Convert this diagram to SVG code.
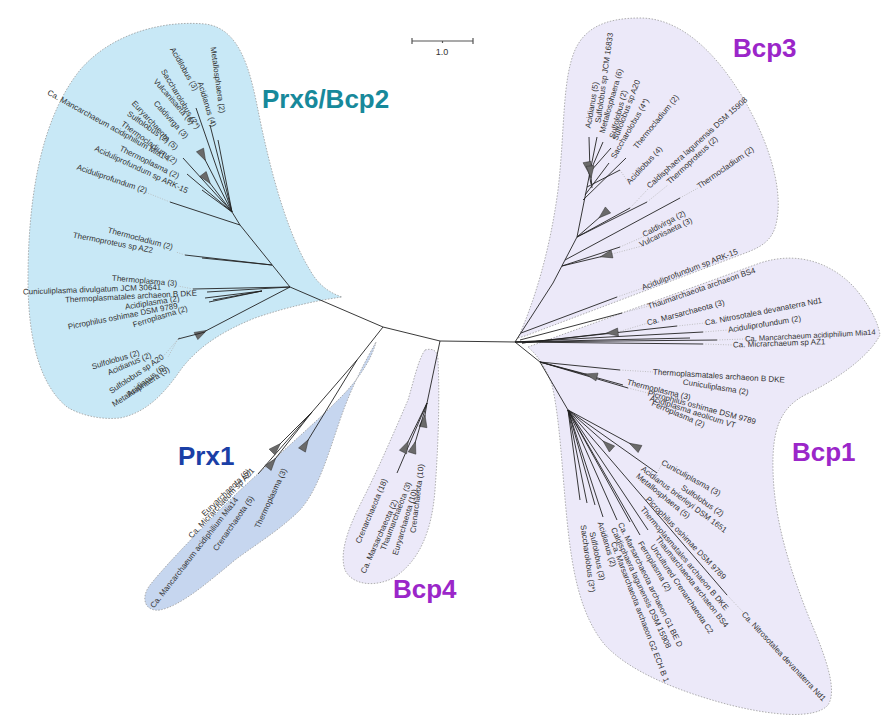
<svg xmlns="http://www.w3.org/2000/svg" width="881" height="718" viewBox="0 0 881 718">
<defs>
<style>
.blob{stroke:#9a9a9a;stroke-width:0.8;stroke-dasharray:1.5 1.5}
.b-prx6{fill:#c8e8f6}
.b-prx1{fill:#c6d6ef}
.b-bcp{fill:#ece9f9}
.lf{font-family:"Liberation Sans",Arial,sans-serif;font-size:8px;fill:#333;dominant-baseline:central}
.cl{font-family:"Liberation Sans",Arial,sans-serif;font-size:26px;font-weight:bold}
.br path{fill:none;stroke:#222;stroke-width:0.9}
.br path.t{marker-end:url(#clade)}
.ld path{fill:none;stroke:#b4b4b4;stroke-width:0.8;stroke-dasharray:1 1.5}
</style>
<marker id="clade" markerUnits="userSpaceOnUse" markerWidth="14" markerHeight="10" refX="13" refY="5" orient="auto">
<path d="M1,5 L13,1 L13,9 Z" fill="#6a6a6a" stroke="#333" stroke-width="0.5"/>
</marker>
</defs>
<rect width="881" height="718" fill="#fff"/>

<!-- clade shading -->
<g id="prx6-bcp2">
<path class="blob b-prx6" d="M67,407 C40,385 28,340 28,280 C28,200 40,120 80,70 C110,35 160,20 205,24 C240,28 250,70 258,110 C268,160 285,230 310,270 C318,285 330,293 342,297 C320,300 290,306 255,318 C225,330 200,345 182,368 C168,388 150,412 120,418 C100,420 80,415 67,407 Z"/>
<text class="cl" x="262" y="108" fill="#17899b">Prx6/Bcp2</text>
<g class="lf">
<text transform="translate(213,47) rotate(82)">Metallosphaera (2)</text>
<text transform="translate(200,82) rotate(73)">Acidianus (4)</text>
<text transform="translate(172,48) rotate(60)">Acidilobus (3)</text>
<text transform="translate(163,70) rotate(59)">Saccharolobus (2*)</text>
<text transform="translate(155,80) rotate(49)">Vulcanisaeta (6)</text>
<text transform="translate(155,102) rotate(48)">Caldivirga (3)</text>
<text transform="translate(133,102) rotate(47)">Euryarchaeota (5)</text>
<text transform="translate(128,113) rotate(35)">Sulfolobus (2)</text>
<text transform="translate(122,123) rotate(36)">Thermocladium (2)</text>
<text transform="translate(48,92) rotate(29)">Ca. Mancarchaeum acidiphilium Mia14</text>
<text transform="translate(120,148) rotate(26)">Thermoplasma (2)</text>
<text transform="translate(95,148) rotate(25)">Aciduliprofundum sp ARK-15</text>
<text transform="translate(77,167) rotate(19)">Aciduliprofundum (2)</text>
<text transform="translate(108,230) rotate(15)">Thermocladium (2)</text>
<text transform="translate(73,235) rotate(11)">Thermoproteus sp AZ2</text>
<text transform="translate(112,278) rotate(5)">Thermoplasma (3)</text>
<text transform="translate(23,292) rotate(-2)">Cuniculiplasma divulgatum JCM 30641</text>
<text transform="translate(65,300) rotate(-3)">Thermoplasmatales archaeon B DKE</text>
<text transform="translate(125,307) rotate(-9)">Acidiplasma (2)</text>
<text transform="translate(68,327) rotate(-11)">Picrophilus oshimae DSM 9789</text>
<text transform="translate(133,325) rotate(-17)">Ferroplasma (2)</text>
<text transform="translate(92,367) rotate(-17)">Sulfolobus (2)</text>
<text transform="translate(108,373) rotate(-23)">Acidianus (2)</text>
<text transform="translate(110,392) rotate(-34)">Sulfolobus sp A20</text>
<text transform="translate(128,395) rotate(-38)">Acidianus (6)</text>
<text transform="translate(113,405) rotate(-33)">Metallosphaera (5)</text>
</g>
</g>

<g id="prx1">
<path class="blob b-prx1" d="M376,342 C372,358 360,378 340,398 C310,428 270,462 235,495 C205,525 170,560 150,585 C140,598 145,612 160,610 C180,606 205,585 235,560 C255,545 280,530 300,510 C318,490 328,455 340,420 C352,385 366,360 376,342 Z"/>
<text class="cl" x="178" y="465" fill="#1b3fa6">Prx1</text>
<g class="lf">
<text transform="translate(203,515) rotate(-44)">Euryarchaeota (6)</text>
<text transform="translate(190,537) rotate(-47)">Ca. Micrarchaeum sp AZ1</text>
<text transform="translate(152,607) rotate(-52)">Ca. Mancarchaeum acidiphilium Mia14</text>
<text transform="translate(215,550) rotate(-55)">Crenarchaeota (5)</text>
<text transform="translate(257,528) rotate(-65)">Thermoplasma (3)</text>
</g>
</g>

<g id="bcp4">
<path class="blob b-bcp" d="M425,350 C432,348 438,350 438,360 C440,400 438,450 435,490 C432,530 420,560 395,577 C375,588 352,585 345,570 C338,550 352,520 365,495 C380,465 395,430 408,400 C414,380 418,360 425,350 Z"/>
<text class="cl" x="393" y="598" fill="#9b26c9">Bcp4</text>
<g class="lf">
<text transform="translate(358,543) rotate(-67)">Crenarchaeota (18)</text>
<text transform="translate(363,573) rotate(-66)">Ca. Marsarchaeota (2)</text>
<text transform="translate(383,550) rotate(-69)">Thaumarchaeota (3)</text>
<text transform="translate(395,555) rotate(-73)">Euryarchaeota (10)</text>
<text transform="translate(413,533) rotate(-83)">Crenarchaeota (10)</text>
</g>
</g>

<g id="bcp3">
<path class="blob b-bcp" d="M518,338 C535,300 550,250 558,190 C565,130 562,80 575,50 C585,28 605,18 640,18 C690,18 730,70 755,120 C770,150 785,195 775,228 C770,242 760,247 748,252 L525,336 Z"/>
<text class="cl" x="733" y="57" fill="#9b26c9">Bcp3</text>
<g class="lf">
<text transform="translate(588,128) rotate(-80)">Acidianus (5)</text>
<text transform="translate(598,123) rotate(-82)">Sulfolobus sp JCM 16833</text>
<text transform="translate(602,133) rotate(-74)">Metallosphaera (6)</text>
<text transform="translate(612,138) rotate(-75)">Sulfolobus (2)</text>
<text transform="translate(615,140) rotate(-69)">Sulfolobus sp A20</text>
<text transform="translate(613,158) rotate(-60)">Saccharolobus (4*)</text>
<text transform="translate(635,148) rotate(-51)">Thermocladium (2)</text>
<text transform="translate(628,183) rotate(-47)">Acidilobus (4)</text>
<text transform="translate(648,187) rotate(-42)">Caldisphaera lagunensis DSM 15908</text>
<text transform="translate(668,183) rotate(-43)">Thermoproteus (2)</text>
<text transform="translate(698,187) rotate(-35)">Thermocladium (2)</text>
<text transform="translate(643,235) rotate(-28)">Caldivirga (2)</text>
<text transform="translate(640,245) rotate(-26)">Vulcanisaeta (3)</text>
<text transform="translate(642,288) rotate(-21)">Aciduliprofundum sp ARK-15</text>
</g>
</g>

<g id="bcp1">
<path class="blob b-bcp" d="M528,347 L760,263 C800,250 832,265 852,285 C866,300 878,320 880,335 C870,355 840,378 805,395 C780,408 772,430 773,470 C774,520 790,570 810,620 C825,655 838,690 828,705 C815,720 770,715 730,705 C680,692 630,672 605,645 C580,615 572,570 567,520 C562,470 560,420 552,385 C545,365 536,354 528,347 Z"/>
<text class="cl" x="792" y="461" fill="#9b26c9">Bcp1</text>
<g class="lf">
<text transform="translate(648,307) rotate(-19)">Thaumarchaeota archaeon BS4</text>
<text transform="translate(647,323) rotate(-15)">Ca. Marsarchaeota (3)</text>
<text transform="translate(705,323) rotate(-11)">Ca. Nitrosotalea devanaterra Nd1</text>
<text transform="translate(728,330) rotate(-9)">Aciduliprofundum (2)</text>
<text transform="translate(745,339) rotate(-3)" font-size="7.6">Ca. Mancarchaeum acidiphilium Mia14</text>
<text transform="translate(733,345) rotate(-2)">Ca. Micrarchaeum sp AZ1</text>
<text transform="translate(653,372) rotate(3.5)">Thermoplasmatales archaeon B DKE</text>
<text transform="translate(683,382) rotate(9)">Cuniculiplasma (2)</text>
<text transform="translate(627,382) rotate(14)">Thermoplasma (3)</text>
<text transform="translate(648,393) rotate(15)">Picrophilus oshimae DSM 9789</text>
<text transform="translate(650,398) rotate(18)">Acidiplasma aeolicum VT</text>
<text transform="translate(652,403) rotate(23)">Ferroplasma (2)</text>
<text transform="translate(662,462) rotate(29)">Cuniculiplasma (3)</text>
<text transform="translate(682,487) rotate(34)">Sulfolobus (2)</text>
<text transform="translate(642,468) rotate(37)">Acidianus brierleyi DSM 1651</text>
<text transform="translate(637,475) rotate(39)">Metallosphaera (5)</text>
<text transform="translate(647,498) rotate(46)">Picrophilus oshimae DSM 9789</text>
<text transform="translate(642,508) rotate(50)">Thermoplasmatales archaeon B DKE</text>
<text transform="translate(657,537) rotate(52)">Thaumarchaeota archaeon BS4</text>
<text transform="translate(652,545) rotate(56)">Uncultured Crenarchaeota C2</text>
<text transform="translate(640,542) rotate(59)">Ferroplasma (2)</text>
<text transform="translate(620,523) rotate(64)">Ca. Marsarchaeota archaeon G1 BE D</text>
<text transform="translate(613,528) rotate(65)">Caldisphaera lagunensis DSM 15908</text>
<text transform="translate(613,542) rotate(69)">Ca. Marsarchaeota archaeon G2 ECH B 1</text>
<text transform="translate(600,522) rotate(73)">Acidianus (2)</text>
<text transform="translate(592,532) rotate(78)">Sulfolobus (3)</text>
<text transform="translate(583,525) rotate(82)">Saccharolobus (3*)</text>
<text transform="translate(743,613) rotate(47)">Ca. Nitrosotalea devanaterra Nd1</text>
</g>
</g>

<!-- scale bar -->
<g id="scale">
<path d="M412,41 H473 M412,38 V44 M473,38 V44 M442.5,41 V43" stroke="#555" stroke-width="1.2" fill="none"/>
<text x="442" y="55" text-anchor="middle" font-family="'Liberation Sans',Arial,sans-serif" font-size="9" fill="#333">1.0</text>
</g>

<!-- dotted leaders from tips to their labels -->
<g id="leaders" class="ld">
<path d="M170,202 L145,192 M193,289 L178,286 M178,339 L168,357 M180,337 L160,360 M185,255 L176,252"/>
<path d="M620,247 L645,236 M612,254 L642,246 M617,297 L643,288 M680,198 L698,188 M647,202 L668,185 M630,208 L648,189 M620,170 L628,182"/>
<path d="M622,313 L649,306 M618,332 L648,323 M677,326 L705,323 M703,332 L728,330 M717,340 L745,339 M703,344 L733,345"/>
<path d="M620,370 L653,372 M628,388 L648,393 M727,595 L743,612 M657,473 L663,462"/>
</g>

<!-- tree branches -->
<g id="branches" class="br">
<path d="M290,287 L383,327 L440,341 L515,342"/>
<!-- Prx1 -->
<path d="M383,327 L357,360 L312,412 L258,474"/>
<path class="t" d="M312,412 L272,452"/>
<path class="t" d="M312,412 L268,468"/>
<path class="t" d="M357,360 L302,450"/>
<!-- Bcp4 -->
<path d="M440,341 L427,403 L397,473"/>
<path class="t" d="M427,403 L423,427"/>
<path class="t" d="M427,403 L412,453"/>
<path class="t" d="M427,403 L403,452"/>
<!-- Prx6/Bcp2 -->
<path d="M290,287 L240,225 L232,212"/>
<path d="M272,265 L185,255"/>
<path d="M272,265 L202,258"/>
<path d="M240,225 L170,202"/>
<path d="M232,212 L218,140"/>
<path d="M232,212 L196,108"/>
<path d="M232,212 L210,125"/>
<path class="t" d="M232,212 L200,150"/>
<path d="M232,212 L183,158"/>
<path class="t" d="M232,212 L203,174"/>
<path d="M232,212 L187,174"/>
<path d="M232,212 L202,190"/>
<path d="M290,287 L193,289"/>
<path d="M290,287 L207,292"/>
<path d="M262,291 L205,298 M262,291 L209,302 M262,291 L213,300"/>
<path class="t" d="M290,287 L196,336"/>
<path d="M205,332 L178,339"/>
<!-- Bcp3 -->
<path d="M515,342 L553,283 L577,237 L587,187 L590,172"/>
<path d="M521,333 L617,297"/>
<path d="M562,266 L620,247"/>
<path class="t" d="M562,266 L612,254"/>
<path d="M565,260 L680,198"/>
<path d="M577,237 L647,202"/>
<path d="M577,237 L630,208"/>
<path class="t" d="M577,237 L608,210"/>
<path d="M587,187 L620,170"/>
<path d="M583,200 L626,158"/>
<path d="M585,195 L609,163"/>
<path d="M590,172 L589,137 M590,172 L597,137 M590,172 L603,142 M590,172 L611,148"/>
<path class="t" d="M591,184 L587,162"/>
<path class="t" d="M592,188 L590,166"/>
<!-- Bcp1 -->
<path d="M520,340 L622,313"/>
<path d="M522,343 L677,326"/>
<path class="t" d="M522,343 L618,332"/>
<path d="M515,342 L703,332 M515,342 L717,340 M515,342 L703,344 M515,342 L690,338"/>
<path d="M515,342 L540,362 L568,410"/>
<path d="M540,362 L620,370 M540,362 L628,388 M540,362 L623,385"/>
<path class="t" d="M540,362 L597,377"/>
<path d="M568,410 L657,473"/>
<path class="t" d="M568,410 L640,449"/>
<path class="t" d="M568,410 L612,449"/>
<path d="M568,410 L727,595"/>
<path d="M568,410 L648,530 M568,410 L640,535 M568,410 L630,522 M568,410 L617,520 M568,410 L603,517 M568,410 L595,505 M568,410 L587,503 M568,410 L580,500"/>
</g>
</svg>
